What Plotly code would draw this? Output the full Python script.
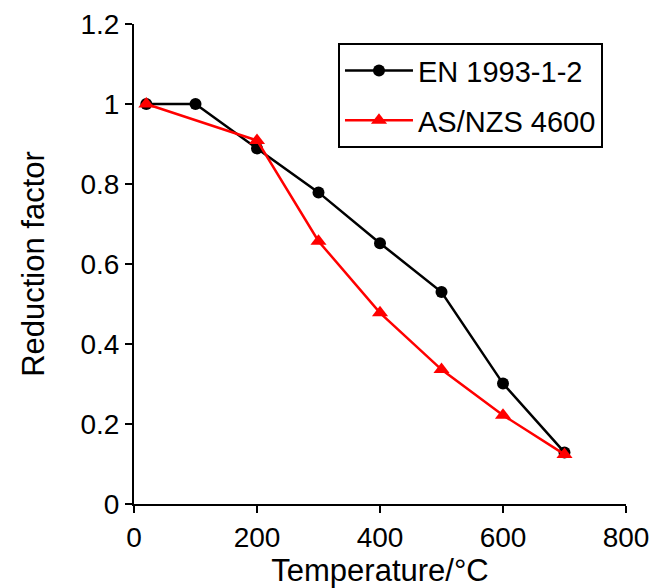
import plotly.graph_objects as go

en_temp = [20, 100, 200, 300, 400, 500, 600, 700]
en_factor = [1.0, 1.0, 0.889, 0.779, 0.652, 0.53, 0.301, 0.129]
as_temp = [20, 200, 300, 400, 500, 600, 700]
as_factor = [1.0, 0.909, 0.657, 0.478, 0.336, 0.222, 0.124]

fig = go.Figure()
fig.add_trace(go.Scatter(x=en_temp, y=en_factor, name="EN 1993-1-2", mode="lines+markers",
                         legendgroup="a",
                         line=dict(color="black", width=2.5),
                         marker=dict(symbol="circle", size=12, color="black")))
fig.add_trace(go.Scatter(x=as_temp, y=as_factor, name="AS/NZS 4600", mode="lines+markers",
                         legendgroup="b",
                         line=dict(color="#ff0000", width=2.5),
                         marker=dict(symbol="triangle-up", size=14, color="#ff0000")))

font = "Liberation Sans, Arial, sans-serif"
fig.update_layout(
    width=651, height=588,
    margin=dict(l=134, r=25, t=24, b=84, autoexpand=False),
    plot_bgcolor="white", paper_bgcolor="white",
    font=dict(family=font, size=28, color="black"),
    showlegend=True,
    legend=dict(x=0.4146, y=0.96, xanchor="left", yanchor="top",
                bordercolor="black", borderwidth=2, bgcolor="white",
                font=dict(size=29), tracegroupgap=9, itemwidth=68),
    xaxis=dict(range=[0, 800], tickvals=[0, 200, 400, 600, 800], showgrid=False, zeroline=False,
               automargin=False,
               showline=True, linecolor="black", linewidth=2, ticks="outside", ticklen=7,
               tickwidth=2, tickcolor="black",
               title=dict(text="Temperature/°C", font=dict(size=31), standoff=5)),
    yaxis=dict(range=[0, 1.2], tickvals=[0, 0.2, 0.4, 0.6, 0.8, 1.0, 1.2],
               ticktext=["0", "0.2", "0.4", "0.6", "0.8", "1", "1.2"],
               automargin=False,
               showgrid=False, zeroline=False,
               showline=True, linecolor="black", linewidth=2, ticks="outside", ticklen=7,
               tickwidth=2, tickcolor="black",
               title=dict(text="Reduction factor", font=dict(size=31), standoff=27)),
)
fig.write_html("out.html", config={"displayModeBar": False},
               post_script="document.body.style.margin='0';document.body.style.overflow='hidden';")
